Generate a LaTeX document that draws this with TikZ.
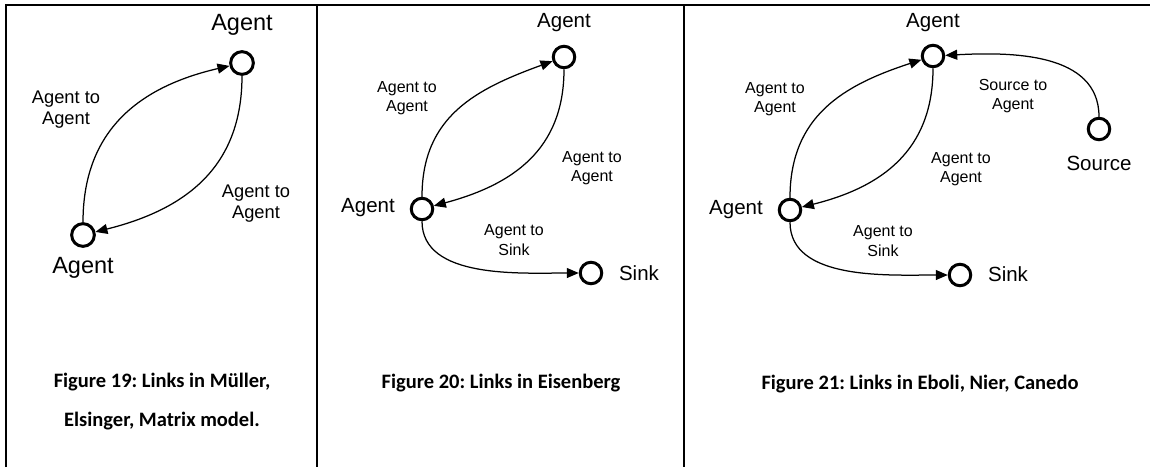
\documentclass[tikz,border=0pt]{standalone}
\usepackage{fontspec}
\setmainfont{Liberation Sans}
\newfontfamily\capfont{Carlito}
\usetikzlibrary{arrows.meta}
\frenchspacing

\tikzset{
  agent/.style={circle, draw, line width=3pt, inner sep=0pt, minimum size=#1},
  agent/.default=21.5pt,
  link/.style={line width=1.25pt, -{Triangle[length=12pt,width=10pt]}},
  framerule/.style={line width=2pt},
  bignm/.style={font=\fontsize{23.5}{27}\selectfont},
  bigedge/.style={align=center, font=\fontsize{18.3}{21}\selectfont},
  nm/.style={font=\fontsize{20.5}{24}\selectfont},
  edge/.style={align=center, font=\fontsize{16}{19.5}\selectfont},
  caption/.style={align=center, font=\capfont\bfseries\fontsize{20.5}{39}\selectfont}
}

\begin{document}
\begin{tikzpicture}[x=1pt, y=1pt]
  \useasboundingbox (0,0) rectangle (1150,-467);

  % frame of the three panels
  \coordinate (fTL) at (6,-5);
  \coordinate (fTR) at (1150,-5);
  \coordinate (fBL) at (6,-467);
  \coordinate (d1T) at (317,-5);
  \coordinate (d1B) at (317,-467);
  \coordinate (d2T) at (684,-5);
  \coordinate (d2B) at (684,-467);
  \draw[framerule] (fBL) -- (fTL) -- (fTR);
  \draw[framerule] (d1T) -- (d1B);
  \draw[framerule] (d2T) -- (d2B);

  % ---- panel 1: two agents
  \node[agent=22.7pt] (a1t) at (242,-63) {};
  \node[agent=22.7pt] (a1b) at (83,-235) {};
  \node[bignm] (a1tl) at (242,-25) {Agent};
  \node[bignm] (a1bl) at (83,-268) {Agent};
  \draw[link] (a1b) to[out=90, in=193, looseness=1.1] (a1t);
  \draw[link] (a1t) to[out=-90, in=14, looseness=1.1] (a1b);
  \node[bigedge] (e1a) at (66,-110) {Agent to\\Agent};
  \node[bigedge] (e1b) at (256,-204) {Agent to\\Agent};
  \node[caption] (c1) at (162,-402) {Figure 19: Links in Müller,\\Elsinger, Matrix model.};

  % ---- panel 2: agents and sink
  \node[agent] (a2t) at (564,-57) {};
  \node[agent] (a2l) at (422,-209) {};
  \node[agent] (s2) at (591,-273) {};
  \node[nm] (a2tl) at (564,-23) {Agent};
  \node[nm] (a2ll) at (368,-208) {Agent};
  \node[nm] (s2l) at (639,-273) {Sink};
  \draw[link] (a2l) to[out=90, in=200, looseness=1.1] (a2t);
  \draw[link] (a2t) to[out=-90, in=15, looseness=1.1] (a2l);
  \draw[link] (a2l) to[out=-90, in=180, looseness=0.9] (s2);
  \node[edge] (e2a) at (407,-98) {Agent to\\Agent};
  \node[edge] (e2b) at (592,-168) {Agent to\\Agent};
  \node[edge] (e2c) at (514,-240) {Agent to\\Sink};
  \node[caption] (c2) at (501,-383) {Figure 20: Links in Eisenberg};

  % ---- panel 3: agents, sink and source
  \node[agent] (a3t) at (933,-56) {};
  \node[agent] (a3l) at (790,-210) {};
  \node[agent] (s3) at (960,-275) {};
  \node[agent] (src) at (1099,-129) {};
  \node[nm] (a3tl) at (933,-23) {Agent};
  \node[nm] (a3ll) at (736,-210) {Agent};
  \node[nm] (s3l) at (1008,-274) {Sink};
  \node[nm] (srcl) at (1099,-163) {Source};
  \draw[link] (a3l) to[out=90, in=198, looseness=1.1] (a3t);
  \draw[link] (a3t) to[out=-90, in=14, looseness=1.1] (a3l);
  \draw[link] (a3l) to[out=-90, in=180, looseness=0.9] (s3);
  \draw[link] (src) to[out=90, in=3, looseness=1.0] (a3t);
  \node[edge] (e3a) at (775,-99) {Agent to\\Agent};
  \node[edge] (e3b) at (961,-169) {Agent to\\Agent};
  \node[edge] (e3c) at (883,-241) {Agent to\\Sink};
  \node[edge] (e3d) at (1013,-96) {Source to\\Agent};
  \node[caption] (c3) at (920,-384) {Figure 21: Links in Eboli, Nier, Canedo};
\end{tikzpicture}
\end{document}
